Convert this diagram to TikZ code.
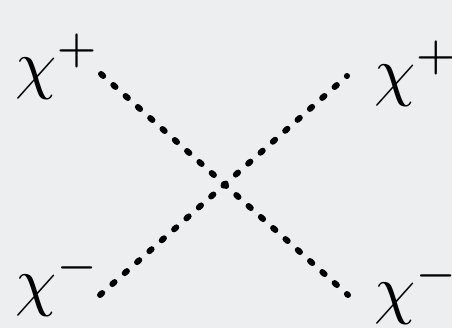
\documentclass[tikz,border=0pt]{standalone}
\usepackage{graphicx}
\usepackage{tikz}
\usetikzlibrary{positioning, calc}
\definecolor{bggray}{RGB}{237,238,240}
\newcommand{\bigpart}[1]{\scalebox{6.6}{$#1$}}

\begin{document}
\begin{tikzpicture}[
    x=1pt, y=1pt,
    particle/.style={anchor=base west, inner sep=0pt},
    scalar/.style={line width=6pt, line cap=round, dash pattern=on 3pt off 13.5pt}
]
\fill [bggray] (0,0) rectangle (452,328);
\useasboundingbox (0,0) rectangle (452,328);

\node [particle] (chiTL) at (15,241.6) {\bigpart{\chi^+}};
\node [particle] (chiTR) at (374,234.6) {\bigpart{\chi^+}};
\node [particle] (chiBL) at (15,24.6) {\bigpart{\chi^-}};
\node [particle] (chiBR) at (374,16.6) {\bigpart{\chi^-}};

\coordinate (inTL) at (101,254);
\coordinate (outTR) at (347,252);
\coordinate (inBL) at (100,33);
\coordinate (outBR) at (348,33);

\draw [scalar] (inTL) -- (outBR);
\draw [scalar] (inBL) -- (outTR);
\end{tikzpicture}
\end{document}
